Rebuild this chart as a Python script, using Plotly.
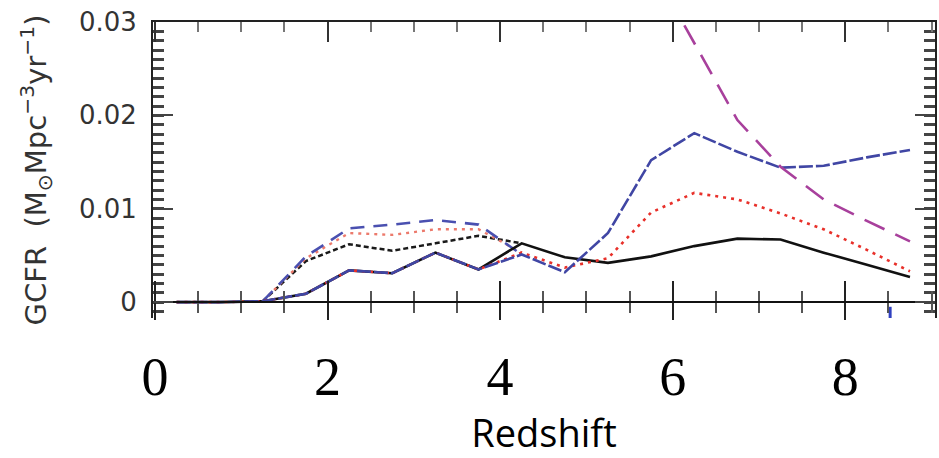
import plotly.graph_objects as go

# ---- data ----
z = [0.25, 0.75, 1.25, 1.75, 2.25, 2.75, 3.25, 3.75, 4.25, 4.75, 5.25, 5.75, 6.25, 6.75, 7.25, 7.75, 8.25, 8.75]
black_solid = [0, 0, 0.0001, 0.0009, 0.0034, 0.0031, 0.0053, 0.0035, 0.0063, 0.0048, 0.0042, 0.0049, 0.0060, 0.0068, 0.0067, 0.0053, 0.0040, 0.0027]
red_dotted = [0, 0, 0.0001, 0.0009, 0.0034, 0.0031, 0.0053, 0.0035, 0.0053, 0.0037, 0.0047, 0.0096, 0.0117, 0.0110, 0.0095, 0.0078, 0.0056, 0.0033]
blue_dashed = [0, 0, 0.0001, 0.0009, 0.0034, 0.0031, 0.0053, 0.0035, 0.0051, 0.0032, 0.0074, 0.0152, 0.0181, 0.0161, 0.0144, 0.0146, 0.0155, 0.0163]

z_upper = [1.25, 1.75, 2.25, 2.75, 3.25, 3.75, 4.25]
black_dashed_upper = [0.0001, 0.0044, 0.0062, 0.0055, 0.0063, 0.0071, 0.0063]
red_dotted_upper = [0.0001, 0.0047, 0.0074, 0.0072, 0.0078, 0.0078, 0.0053]
blue_dashed_upper = [0.0001, 0.0049, 0.0079, 0.0083, 0.0088, 0.0083, 0.0051]

z_purple = [5.75, 6.25, 6.75, 7.25, 7.75, 8.25, 8.75]
purple_longdash = [0.036, 0.0277, 0.0195, 0.0145, 0.0110, 0.0087, 0.0065]

z_blue_mark = [8.52, 8.52]
blue_mark = [-0.0005, -0.0017]

x_tickvals = [0, 2, 4, 6, 8]
x_ticktext = ["0", "2", "4", "6", "8"]
y_tickvals = [0, 0.01, 0.02, 0.03]
y_ticktext = ["0", "0.01", "0.02", "0.03"]

X_RANGE = [-0.023, 9.04]
Y_RANGE = [-0.0017, 0.03]

fig = go.Figure()

def line(x, y, color, width, dash, **kw):
    fig.add_trace(go.Scatter(x=x, y=y, mode="lines", showlegend=False, hoverinfo="skip",
                             line=dict(color=color, width=width, dash=dash), **kw))

# upper group
line(z_upper, black_dashed_upper, "#1a1a1a", 2.5, "5px,3px")
line(z_upper, red_dotted_upper, "#ec7a6c", 2.4, "3px,5px")
line(z_upper, blue_dashed_upper, "#4a50b0", 2.6, "14px,9px")
# lower / main group
line(z, black_solid, "#111111", 2.6, "solid")
line(z, red_dotted, "#e8302a", 2.6, "3px,5px")
line(z, blue_dashed, "#4046a4", 2.6, "14px,3px")
line(z_purple, purple_longdash, "#a8409c", 2.6, "22px,12px")
line(z_blue_mark, blue_mark, "#3040c0", 3, "solid")

# dummy traces so the extra overlay axes are always built
for xa in ["x2", "x3", "x4"]:
    fig.add_trace(go.Scatter(x=[0], y=[0], xaxis=xa, yaxis="y", mode="markers",
                             marker=dict(opacity=0), showlegend=False, hoverinfo="skip"))

zero_pos = (0 - Y_RANGE[0]) / (Y_RANGE[1] - Y_RANGE[0])

common_x = dict(range=X_RANGE, tick0=0, dtick=2, tickmode="linear", showgrid=False,
                zeroline=False, showticklabels=False)

fig.update_layout(
    width=939, height=458,
    margin=dict(l=153, r=2, t=22, b=140),
    paper_bgcolor="white", plot_bgcolor="white",
    xaxis=dict(range=X_RANGE, tickmode="array", tickvals=x_tickvals, ticktext=x_ticktext,
               showgrid=False, zeroline=False, showline=False, ticks="",
               tickfont=dict(family="Liberation Serif", size=54, color="black"),
               ticklabelstandoff=22,
               title=dict(text="Redshift", standoff=9,
                          font=dict(family="Open Sans", size=38, color="black"))),
    xaxis2=dict(overlaying="x", anchor="free", position=zero_pos, side="bottom",
                ticks="inside", ticklen=20, tickwidth=2, tickcolor="#222",
                showline=True, linecolor="#111", linewidth=2,
                minor=dict(ticks="inside", ticklen=10, dtick=0.5, tick0=0, tickwidth=2, tickcolor="#555"),
                **common_x),
    xaxis3=dict(overlaying="x", anchor="free", position=zero_pos, side="bottom",
                ticks="outside", ticklen=17, tickwidth=2, tickcolor="#222", showline=False,
                minor=dict(ticks="outside", ticklen=10, dtick=0.5, tick0=0, tickwidth=2, tickcolor="#555"),
                **common_x),
    xaxis4=dict(overlaying="x", anchor="y", side="top",
                ticks="inside", ticklen=20, tickwidth=2, tickcolor="#333",
                showline=True, linecolor="#222", linewidth=2,
                minor=dict(ticks="inside", ticklen=10, dtick=0.5, tick0=0, tickwidth=2, tickcolor="#777"),
                **common_x),
    yaxis=dict(range=Y_RANGE, tickmode="array", tickvals=y_tickvals, ticktext=y_ticktext,
               showgrid=False, zeroline=False,
               showline=True, mirror="ticks", linecolor="#222", linewidth=2,
               ticks="inside", ticklen=20, tickwidth=1.5, tickcolor="#444",
               minor=dict(ticks="inside", ticklen=11, tickmode="linear", tick0=0, dtick=0.001,
                          tickwidth=2.5, tickcolor="#444"),
               tickfont=dict(family="DejaVu Sans", size=26, color="#333"),
               ticklabelstandoff=9,
               title=dict(text="GCFR  (M<sub>⊙</sub>Mpc<sup>−3</sup>yr<sup>−1</sup>)", standoff=24,
                          font=dict(family="DejaVu Sans", size=29, color="#333"))),
)

fig.write_html("out.html")
